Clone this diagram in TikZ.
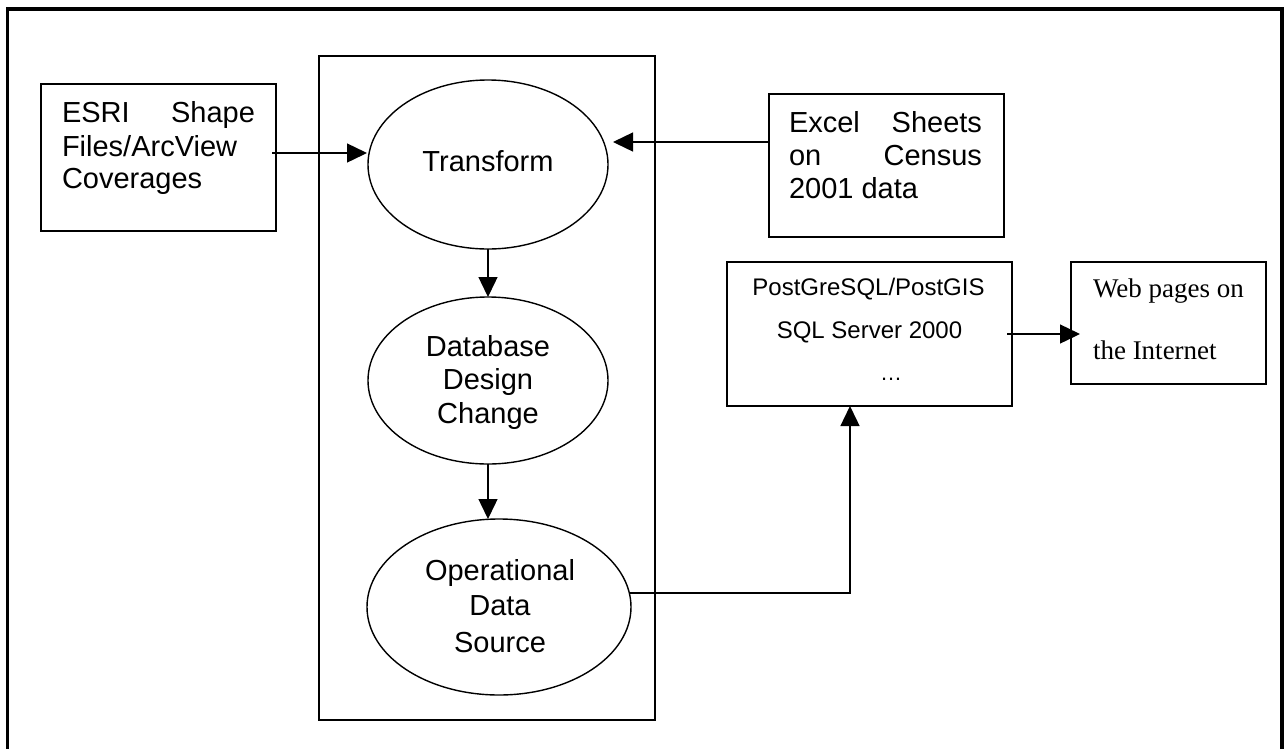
\documentclass[tikz,border=0pt]{standalone}
\usepackage{fontspec}
\setmainfont{Liberation Serif}
\setsansfont{Liberation Sans}
\usetikzlibrary{arrows.meta,shapes.geometric}
\newcommand\fsz[2]{\fontsize{#1pt}{#2pt}\selectfont}
\begin{document}
\begin{tikzpicture}[x=1pt,y=-1pt,
  frame/.style={draw, line width=3.5pt},
  box/.style={draw, line width=1.4pt, inner sep=0pt, outer sep=0pt},
  ell/.style={draw, ellipse, line width=1.4pt, inner sep=0pt, outer sep=0pt},
  lbl/.style={inner sep=0pt, outer sep=0pt, font=\sffamily\fsz{29}{33}},
  slbl/.style={inner sep=0pt, outer sep=0pt, font=\sffamily\fsz{24}{28}},
  rlbl/.style={inner sep=0pt, outer sep=0pt, font=\rmfamily\fsz{27}{31}},
  arr/.style={line width=1.4pt, -{Triangle[length=20pt,width=19pt]}}]
\useasboundingbox (0,0) rectangle (1286,748);
\clip (0,0) rectangle (1286,748);
\fill[white] (0,0) rectangle (1286,748);
\draw[frame] (7.5,9) rectangle (1282,756);

% containers and boxes
\node[box, minimum width=336pt, minimum height=664pt] (stage) at (487,388) {};
\node[box, minimum width=235pt, minimum height=147pt] (esri) at (158.5,157.5) {};
\node[box, minimum width=235pt, minimum height=143pt] (excel) at (886.5,165.5) {};
\node[box, minimum width=285pt, minimum height=144pt] (pg) at (869.5,334) {};
\node[box, minimum width=195pt, minimum height=122pt] (web) at (1168.5,323) {};

% ellipses
\node[ell, minimum width=240pt, minimum height=169pt] (tr) at (488,164.5) {};
\node[ell, minimum width=240pt, minimum height=167pt] (db) at (488,380.5) {};
\node[ell, minimum width=264pt, minimum height=176pt] (op) at (499,607) {};

% texts
\node[lbl, anchor=base west] (esriA) at (62,122) {\hbox to 193pt{ESRI\hfill Shape}};
\node[lbl, anchor=base west] (esriB) at (62,156) {Files/ArcView};
\node[lbl, anchor=base west] (esriC) at (62,188) {Coverages};

\node[lbl, anchor=base west] (excelA) at (789,132) {\hbox to 193pt{Excel\hfill Sheets}};
\node[lbl, anchor=base west] (excelB) at (789,165) {\hbox to 193pt{on\hfill Census}};
\node[lbl, anchor=base west] (excelC) at (789,198) {2001 data};

\node[lbl, anchor=base] (trA) at (488,171) {Transform};

\node[lbl, anchor=base] (dbA) at (488,356) {Database};
\node[lbl, anchor=base] (dbB) at (488,389) {Design};
\node[lbl, anchor=base] (dbC) at (488,423) {Change};

\node[lbl, anchor=base] (opA) at (500,580.5) {Operational};
\node[lbl, anchor=base] (opB) at (500,615) {Data};
\node[lbl, anchor=base] (opC) at (500,652) {Source};

\node[slbl, anchor=base] (pgA) at (868.5,295) {PostGreSQL/PostGIS};
\node[slbl, anchor=base] (pgB) at (869.5,338) {SQL Server 2000};
\node[slbl, anchor=base, font=\sffamily\fsz{22}{26}] (pgC) at (891,380) {…};

\node[rlbl, anchor=base west] (webA) at (1093,297) {Web pages on};
\node[rlbl, anchor=base west] (webB) at (1093,359) {the Internet};

% connectors
\coordinate (esriOut) at (272,153);
\coordinate (trInL) at (367,153);
\draw[arr] (esriOut) -- (trInL);

\coordinate (trInR) at (613,142);
\draw[arr] (excel.west |- trInR) -- (trInR);

\draw[arr] (tr.south) -- (db.north);
\draw[arr] (db.south) -- (db.south |- op.north);

\coordinate (opOut) at (630,593);
\coordinate (bend) at (850,593);
\draw[arr] (opOut) -- (bend) -- (bend |- pg.south);

\coordinate (pgOut) at (1007,334);
\coordinate (webIn) at (1080,334);
\draw[arr] (pgOut) -- (webIn);
\end{tikzpicture}
\end{document}
